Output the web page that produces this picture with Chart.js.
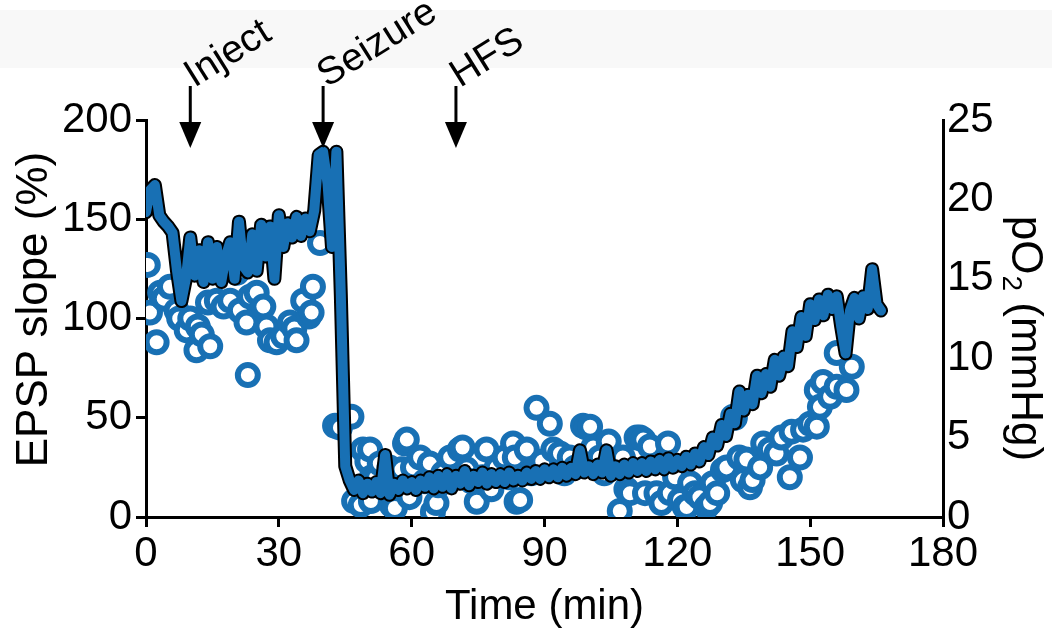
<!DOCTYPE html>
<html>
<head>
<meta charset="utf-8">
<title>EPSP slope and pO2</title>
<script src="https://cdn.jsdelivr.net/npm/chart.js@4.4.1/dist/chart.umd.min.js"></script>
<style>
  html, body { margin: 0; padding: 0; background: #fff; }
  #wrap { width: 1052px; height: 633px; }
</style>
</head>
<body>
<div id="wrap"><canvas id="myChart" width="1052" height="633"></canvas></div>
<script>
// EPSP slope (%), open circles: [time (min), slope]
const epsp = [
    [0.4, 127], [0.9, 103], [2.4, 88], [3.2, 113], [4.0, 110], [5.4, 116], [6.9, 104], [7.5, 100],
    [9.2, 94], [10.0, 100], [11.4, 84], [11.7, 96], [12.6, 92], [14.0, 108], [14.5, 86], [16.0, 109],
    [17.5, 106], [19.0, 109], [20.5, 123], [21.2, 104], [22.7, 98], [23.0, 71.5], [23.5, 111], [25.0, 113],
    [26.5, 106], [27.2, 96], [28.0, 89], [29.5, 88], [31.0, 91], [32.5, 98], [33.5, 95], [34.0, 89],
    [35.5, 109], [36.8, 101], [37.4, 103], [37.7, 116], [39.3, 138],
    [42.7, 46], [43.8, 45], [46.4, 50.5], [47.0, 8], [48.5, 6], [49.0, 34], [50.0, 28], [50.6, 34],
    [50.8, 8], [51.0, 20], [52.0, 20], [52.8, 27], [53.5, 15], [55.0, 25], [55.5, 6], [56.2, 4.5],
    [57.7, 24], [58.5, 37], [58.9, 39], [59.5, 10], [60.3, 25], [61.9, 30], [63.0, 18], [64.1, 27],
    [64.8, 2.5], [65.6, 7], [66.0, 16], [67.1, 22], [68.7, 30], [70.0, 20], [70.9, 34], [71.5, 35],
    [72.4, 24], [73.5, 18], [74.7, 7.7], [76.0, 20], [76.9, 34], [78.0, 14], [79.2, 25], [81.0, 30],
    [82.0, 20], [82.9, 37], [83.3, 30], [83.7, 7.7], [84.5, 8.6], [86.0, 34], [87.0, 22], [88.2, 55],
    [89.5, 28], [91.2, 47], [92.0, 34], [93.5, 32], [94.5, 22], [95.7, 30], [97.0, 25], [98.7, 46],
    [99.5, 45], [100.3, 45.5], [101.0, 35], [102.5, 30], [103.5, 22], [104.5, 38], [106.0, 25],
    [107.0, 3], [107.7, 30], [108.5, 14], [109.3, 12], [110.8, 40], [111.6, 40], [112.3, 39],
    [112.7, 12], [113.8, 35.5], [115.3, 12], [116.4, 7], [117.9, 37], [118.3, 12], [119.5, 20],
    [120.6, 8.6], [121.7, 5], [122.1, 5], [122.9, 17], [124.0, 12], [125.0, 10], [126.6, 5],
    [127.4, 7], [128.0, 17], [129.0, 12], [130.3, 23.7], [131.1, 25], [132.6, 50.5], [133.0, 50],
    [134.0, 30], [134.8, 18.6], [135.6, 29], [136.4, 15], [137.0, 18.6], [138.7, 25], [139.4, 37],
    [140.9, 34], [142.4, 32], [143.5, 40], [145.4, 20], [145.8, 43], [147.7, 30], [148.4, 44],
    [150.0, 47], [151.5, 45.5], [151.5, 64], [152.2, 55.5], [152.9, 68], [154.5, 60.6], [156.0, 65.6],
    [156.0, 82.6], [158.2, 64], [159.4, 75.7]
];

// pO2 (mmHg), one reading a minute: [time (min), pO2]
const po2 = [
    [0, 19.2], [1, 20.6], [2, 20.9], [3, 19.0], [4, 18.6], [5, 18.3], [6, 17.9], [7, 15.5], [8, 13.6],
    [9, 15.0], [10, 17.6], [11, 15.2], [12, 16.8], [13, 14.8], [14, 17.3], [15, 15.0], [16, 17.0],
    [17, 14.8], [18, 16.4], [19, 17.3], [20, 15.0], [21, 18.6], [22, 15.8], [23, 15.4], [24, 17.8],
    [25, 15.5], [26, 18.4], [27, 16.4], [28, 18.3], [29, 15.0], [30, 19.0], [31, 17.0], [32, 18.5],
    [33, 17.6], [34, 18.9], [35, 17.7], [36, 18.8], [37, 18.0], [38, 19.3], [39, 22.8], [40, 23.0],
    [41, 21.0], [42, 17.0], [43, 23.0], [44, 14.0], [45, 3.2], [46, 2.3], [47, 1.7], [48, 2.3],
    [49, 1.5], [50, 2.1], [51, 1.6], [52, 2.2], [53, 1.5], [54, 3.9], [55, 1.4], [56, 2.1], [57, 1.7],
    [58, 2.3], [59, 1.8], [60, 2.2], [61, 1.7], [62, 2.3], [63, 1.9], [64, 2.5], [65, 1.8], [66, 2.6],
    [67, 1.9], [68, 2.7], [69, 1.8], [70, 2.6], [71, 2.1], [72, 2.9], [73, 2.0], [74, 2.6], [75, 2.2],
    [76, 2.8], [77, 2.1], [78, 2.7], [79, 2.2], [80, 2.7], [81, 2.2], [82, 2.8], [83, 2.3], [84, 2.6],
    [85, 2.3], [86, 2.8], [87, 2.4], [88, 2.9], [89, 2.4], [90, 3.0], [91, 2.5], [92, 3.0], [93, 2.5],
    [94, 3.1], [95, 2.6], [96, 3.1], [97, 2.7], [98, 4.2], [99, 2.8], [100, 3.2], [101, 2.7], [102, 3.3],
    [103, 2.8], [104, 4.2], [105, 2.6], [106, 3.2], [107, 2.7], [108, 3.3], [109, 2.8], [110, 3.4],
    [111, 2.9], [112, 3.4], [113, 2.9], [114, 3.5], [115, 3.0], [116, 3.6], [117, 3.0], [118, 3.7],
    [119, 3.1], [120, 3.6], [121, 3.2], [122, 3.8], [123, 3.3], [124, 4.0], [125, 3.5], [126, 4.4],
    [127, 3.9], [128, 5.0], [129, 4.5], [130, 5.8], [131, 5.1], [132, 6.5], [133, 5.9], [134, 7.9],
    [135, 6.7], [136, 7.7], [137, 7.1], [138, 8.9], [139, 7.8], [140, 9.0], [141, 8.2], [142, 9.9],
    [143, 8.9], [144, 10.1], [145, 9.5], [146, 11.7], [147, 10.7], [148, 12.6], [149, 11.4], [150, 13.4],
    [151, 12.4], [152, 13.7], [153, 12.7], [154, 14.0], [155, 13.1], [156, 13.9], [157, 12.0], [158, 10.3],
    [159, 13.0], [160, 13.8], [161, 12.5], [162, 13.9], [163, 13.1], [164, 15.6], [165, 13.4], [166, 13.0]
];

// arrows above the plot
const eventTimes = [10, 40, 70];
const eventLabels = ['Inject', 'Seizure', 'HFS'];

// tick labels
const timeTicks = [0, 30, 60, 90, 120, 150, 180];
const slopeTicks = [0, 50, 100, 150, 200];
const po2Ticks = [0, 5, 10, 15, 20, 25];

const blue = '#1870b4';
const fontFamily = "'Liberation Sans', Arial, Helvetica, sans-serif";

Chart.defaults.font.family = fontFamily;
Chart.defaults.font.size = 42;
Chart.defaults.color = '#000';

const extras = {
    id: 'extras',
    beforeDraw(chart) {
        const ctx = chart.ctx;
        ctx.save();
        ctx.fillStyle = '#f8f8f8';
        ctx.fillRect(0, 10, chart.width, 58);
        ctx.restore();
    },
    afterDraw(chart) {
        const ctx = chart.ctx;
        const xs = chart.scales.x;
        const yl = chart.scales.yLeft;
        const yr = chart.scales.yRight;
        ctx.save();
        ctx.fillStyle = '#000';
        ctx.strokeStyle = '#000';

        eventTimes.forEach((t, i) => {
            const px = xs.getPixelForValue(t);
            ctx.lineWidth = 3;
            ctx.beginPath();
            ctx.moveTo(px, 86);
            ctx.lineTo(px, 126);
            ctx.stroke();
            ctx.beginPath();
            ctx.moveTo(px - 11, 122);
            ctx.lineTo(px + 11, 122);
            ctx.lineTo(px, 148);
            ctx.closePath();
            ctx.fill();

            ctx.save();
            ctx.translate(px + 4, 88);
            ctx.rotate(-32 * Math.PI / 180);
            ctx.font = '39px ' + fontFamily;
            ctx.textAlign = 'left';
            ctx.textBaseline = 'alphabetic';
            ctx.fillText(eventLabels[i], 0, 0);
            ctx.restore();
        });

        // left axis title
        ctx.save();
        ctx.translate(47, (yl.top + yl.bottom) / 2 - 9);
        ctx.rotate(-Math.PI / 2);
        ctx.font = '44px ' + fontFamily;
        ctx.textAlign = 'center';
        ctx.textBaseline = 'alphabetic';
        ctx.fillText('EPSP slope (%)', 0, 0);
        ctx.restore();

        // right axis title with subscript
        ctx.save();
        ctx.translate(1012, (yr.top + yr.bottom) / 2 + 20);
        ctx.rotate(Math.PI / 2);
        const big = '44px ' + fontFamily;
        const small = '28px ' + fontFamily;
        ctx.font = big;
        const w1 = ctx.measureText('pO').width;
        const w3 = ctx.measureText(' (mmHg)').width;
        ctx.font = small;
        const w2 = ctx.measureText('2').width;
        const x0 = -(w1 + w2 + w3) / 2;
        ctx.textAlign = 'left';
        ctx.textBaseline = 'alphabetic';
        ctx.font = big;
        ctx.fillText('pO', x0, 0);
        ctx.font = small;
        ctx.fillText('2', x0 + w1 + 1, 9);
        ctx.font = big;
        ctx.fillText(' (mmHg)', x0 + w1 + w2, 0);
        ctx.restore();
        ctx.restore();
    }
};

const ctx = document.getElementById('myChart');
const myChart = new Chart(ctx, {
    data: {
        datasets: [{
            type: 'line',
            label: 'pO2',
            data: po2.map(p => ({ x: p[0], y: p[1] })),
            yAxisID: 'yRight',
            borderColor: blue,
            borderWidth: 10,
            borderJoinStyle: 'round',
            borderCapStyle: 'round',
            pointRadius: 0,
            tension: 0,
            order: 1
        }, {
            type: 'line',
            label: 'pO2 edge',
            data: po2.map(p => ({ x: p[0], y: p[1] })),
            yAxisID: 'yRight',
            borderColor: '#000',
            borderWidth: 14,
            borderJoinStyle: 'round',
            borderCapStyle: 'round',
            pointRadius: 0,
            tension: 0,
            order: 2
        }, {
            type: 'scatter',
            label: 'EPSP slope',
            data: epsp.map(p => ({ x: p[0], y: p[1] })),
            yAxisID: 'yLeft',
            pointRadius: 10,
            pointBorderWidth: 6,
            pointBorderColor: blue,
            pointBackgroundColor: '#fff',
            order: 3
        }]
    },
    options: {
        responsive: false,
        animation: false,
        layout: { padding: { top: 120, left: 0, right: 0, bottom: 0 } },
        plugins: {
            legend: { display: false },
            tooltip: { enabled: false }
        },
        scales: {
            x: {
                type: 'linear',
                min: 0,
                max: 180,
                afterBuildTicks: (s) => { s.ticks = timeTicks.map(v => ({ value: v })); },
                afterFit: (s) => { s.height = 116; },
                grid: { drawOnChartArea: false, drawTicks: true, tickLength: 10, color: '#000', lineWidth: 3 },
                border: { display: true, color: '#000', width: 3 },
                ticks: { padding: 2, maxRotation: 0 },
                title: { display: true, text: 'Time (min)', padding: { top: 2, bottom: 0 } }
            },
            yLeft: {
                type: 'linear',
                position: 'left',
                min: 0,
                max: 200,
                afterBuildTicks: (s) => { s.ticks = slopeTicks.map(v => ({ value: v })); },
                afterFit: (s) => { s.width = 146; },
                grid: { drawOnChartArea: false, drawTicks: true, tickLength: 10, color: '#000', lineWidth: 3 },
                border: { display: true, color: '#000', width: 3 },
                ticks: { padding: 4 }
            },
            yRight: {
                type: 'linear',
                position: 'right',
                min: 0,
                max: 25,
                afterBuildTicks: (s) => { s.ticks = po2Ticks.map(v => ({ value: v })); },
                afterFit: (s) => { s.width = 109; },
                grid: { drawOnChartArea: false, drawTicks: false },
                border: { display: true, color: '#000', width: 3 },
                ticks: { padding: 4 }
            }
        }
    },
    plugins: [extras]
});
</script>
</body>
</html>
